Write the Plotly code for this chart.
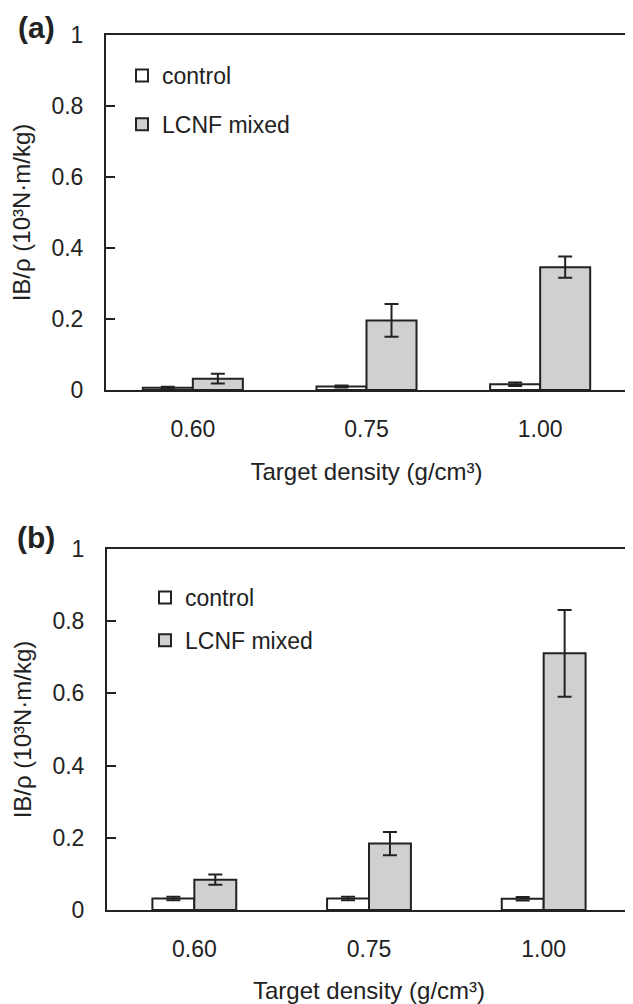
import plotly.graph_objects as go

categories = ["0.60", "0.75", "1.00"]
series_names = ["control", "LCNF mixed"]

# Panel (a)
a_control = [0.006, 0.010, 0.016]
a_control_err = [0.003, 0.003, 0.005]
a_lcnf = [0.032, 0.196, 0.346]
a_lcnf_err = [0.014, 0.046, 0.030]

# Panel (b)
b_control = [0.032, 0.032, 0.031]
b_control_err = [0.005, 0.005, 0.005]
b_lcnf = [0.084, 0.184, 0.711]
b_lcnf_err = [0.014, 0.032, 0.120]

y_ticks = [0, 0.2, 0.4, 0.6, 0.8, 1]
y_ticktext = ["0", "0.2", "0.4", "0.6", "0.8", "1"]

# page body has an 8px default margin; figure fills the rest of the window
PAGE_OFF = 8
W, H = 633 - PAGE_OFF, 1004 - PAGE_OFF


def px(x):
    return (x - PAGE_OFF) / W


def py(y):
    return 1 - (y - PAGE_OFF) / H


FONT = "Liberation Sans, Arial, sans-serif"
INK = "#222222"
FILLS = ["#ffffff", "#d0d0d0"]
FS = 23

fig = go.Figure()


def add_panel(ctrl, ctrl_err, lcnf, lcnf_err, xa, ya, legend, bw):
    for name, vals, errs, fill, grp, off in [
        (series_names[0], ctrl, ctrl_err, FILLS[0], "c", -bw),
        (series_names[1], lcnf, lcnf_err, FILLS[1], "l", 0.0),
    ]:
        fig.add_trace(go.Bar(
            x=categories, y=vals, name=name, width=bw, offset=off,
            marker=dict(color=fill, line=dict(color=INK, width=2)),
            error_y=dict(type="data", array=errs, visible=True,
                         color=INK, thickness=2, width=7),
            xaxis=xa, yaxis=ya, legend=legend,
            legendgroup=legend + grp,
        ))


add_panel(a_control, a_control_err, a_lcnf, a_lcnf_err, "x", "y", "legend", 0.288)
add_panel(b_control, b_control_err, b_lcnf, b_lcnf_err, "x2", "y2", "legend2", 0.24)

common_x = dict(
    type="category", range=[-0.5, 2.5], showline=True, linecolor=INK,
    linewidth=2, mirror=True, ticks="", ticklabelstandoff=17,
    tickfont=dict(family=FONT, size=FS, color=INK), automargin=False,
    title=dict(text="Target density (g/cm³)", standoff=23,
               font=dict(family=FONT, size=24, color=INK)),
    showgrid=False, zeroline=False,
)
common_y = dict(
    range=[0, 1], tickvals=y_ticks, ticktext=y_ticktext, showline=True,
    linecolor=INK, linewidth=2, mirror=True, ticks="inside", ticklen=9,
    tickwidth=2, tickcolor=INK, ticklabelstandoff=16, automargin=False,
    tickfont=dict(family=FONT, size=FS, color=INK),
    title=dict(text="IB/ρ (10³N·m/kg)", standoff=14,
               font=dict(family=FONT, size=24, color=INK)),
    showgrid=False, zeroline=False,
)

legend_common = dict(
    font=dict(family=FONT, size=FS, color=INK), bgcolor="rgba(0,0,0,0)",
    xanchor="left", yanchor="top", itemwidth=30, traceorder="grouped",
)

fig.update_layout(
    template="none",
    width=W, height=H, margin=dict(l=0, r=0, t=0, b=0, autoexpand=False),
    paper_bgcolor="white", plot_bgcolor="white",
    barmode="overlay",
    xaxis=dict(common_x, domain=[px(106), px(627)], anchor="y"),
    yaxis=dict(common_y, domain=[py(390), py(35)], anchor="x"),
    xaxis2=dict(common_x, domain=[px(107), px(631)], anchor="y2"),
    yaxis2=dict(common_y, domain=[py(910), py(549)], anchor="x2"),
    legend=dict(legend_common, x=px(122), y=py(54), tracegroupgap=16),
    legend2=dict(legend_common, x=px(145), y=py(576), tracegroupgap=10),
    showlegend=True,
    annotations=[
        dict(text="<b>(a)</b>", x=px(36), y=py(27), xref="paper",
             yref="paper", showarrow=False, xanchor="center",
             yanchor="middle", font=dict(family=FONT, size=30, color=INK)),
        dict(text="<b>(b)</b>", x=px(36), y=py(537), xref="paper",
             yref="paper", showarrow=False, xanchor="center",
             yanchor="middle", font=dict(family=FONT, size=30, color=INK)),
    ],
)

fig.write_html("out.html")
